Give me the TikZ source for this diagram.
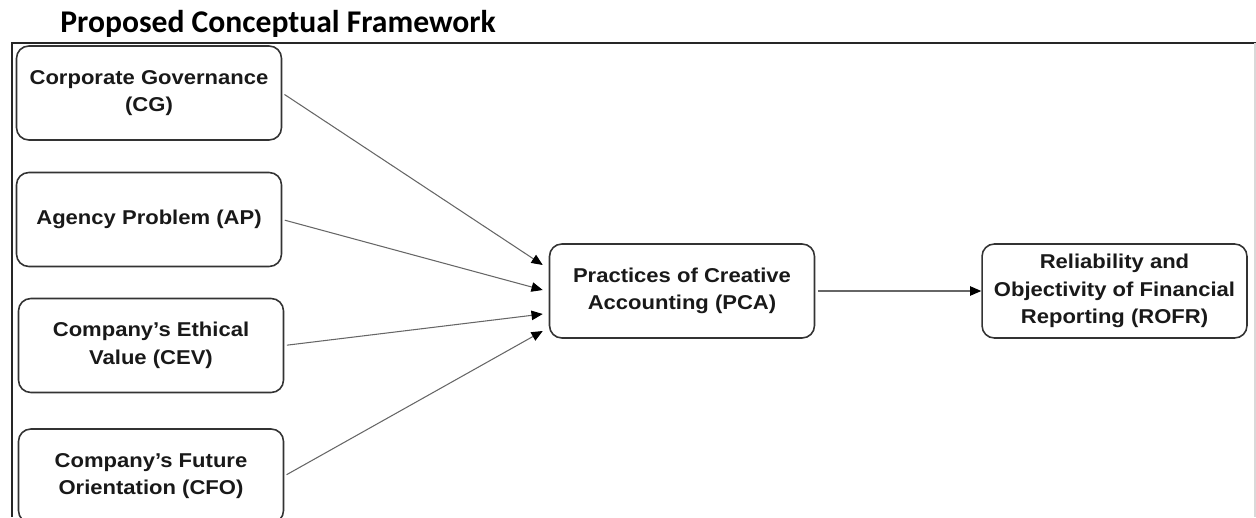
\documentclass[tikz,border=0pt]{standalone}
\usepackage{fontspec}
\setmainfont{Liberation Sans}
\newfontfamily\titlefont{Carlito}
\newfontfamily\boxfont{Liberation Sans}[FakeStretch=1.1]
\usetikzlibrary{arrows.meta,calc}

\tikzset{
  concept/.style={draw=black!80, line width=0.9pt, rounded corners=7pt,
    minimum width=5.3cm, minimum height=1.88cm, align=center, text=black!90,
    font=\boxfont\bfseries\fontsize{11.4}{15.6}\selectfont},
  link/.style={draw=black!60, line width=0.6pt, shorten <=1.5pt,
    -{Triangle[length=6.4pt,width=5.4pt,color=black]}},
}

\begin{document}
\begin{tikzpicture}[x=0.02cm, y=-0.02cm]
        % pixel grid of the reference, y going down
        \useasboundingbox (0,0) rectangle (1256,517);
        \clip (0,0) rectangle (1256,517);
        \node[anchor=base west, inner sep=0pt, font=\titlefont\bfseries\fontsize{18}{20}\selectfont] (title) at (60,33) {Proposed Conceptual Framework};
        \draw[line width=1.1pt, black!85] (12,517) -- (12,43) -- (1256,43);
        \draw[line width=0.6pt, black!15] (1255,43) -- (1255,517);
        % independent variables
        \node[concept] (cg) at (149,93) {Corporate Governance\\(CG)};
        \node[concept] (ap) at (149,219.5) {Agency Problem (AP)};
        \node[concept] (cev) at (151,345.5) {Company’s Ethical\\Value (CEV)};
        \node[concept] (cfo) at (151,476) {Company’s Future\\Orientation (CFO)};
        % mediator and outcome
        \node[concept] (pca) at (682,291) {Practices of Creative\\Accounting (PCA)};
        \node[concept] (rofr) at (1114.5,291) {Reliability and\\Objectivity of Financial\\Reporting (ROFR)};
        \draw[link] (cg.east) -- ($(pca.west)+(-6,-26)$);
        \draw[link] (ap.east) -- ($(pca.west)+(-6,-1)$);
        \draw[link] (cev.east) -- ($(pca.west)+(-6,23)$);
        \draw[link] (cfo.east) -- ($(pca.west)+(-6,40)$);
        \draw[link] (pca.east) -- (rofr.west);
\end{tikzpicture}
\end{document}
